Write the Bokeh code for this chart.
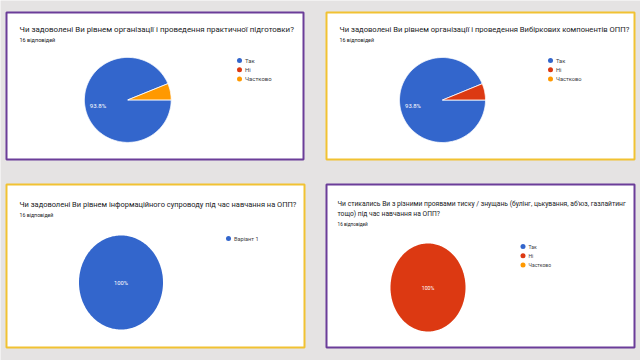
import numpy as np
from bokeh.plotting import figure
from bokeh.models import Range1d
from bokeh.core.properties import value
from bokeh.embed import file_html
from bokeh.resources import INLINE

# ---------------- data ----------------
titles_1 = ["Чи задоволені Ви рівнем організації і проведення практичної підготовки?"]
titles_2 = ["Чи задоволені Ви рівнем організації і проведення Вибіркових компонентів ОПП?"]
titles_3 = ["Чи задоволені Ви рівнем інформаційного супроводу під час навчання на ОПП?"]
titles_4 = ["Чи стикались Ви з різними проявами тиску / знущань (булінг, цькування, аб'юз, газлайтинг",
            "тощо) під час навчання на ОПП?"]
responses_label = "16 відповідей"

options_1 = ["Так", "Ні", "Частково"]
counts_1 = [15, 0, 1]
options_2 = ["Так", "Ні", "Частково"]
counts_2 = [15, 1, 0]
options_3 = ["Варіант 1"]
counts_3 = [16]
options_4 = ["Так", "Ні", "Частково"]
counts_4 = [0, 16, 0]

colors = ["#3366cc", "#dc3912", "#ff9900"]

# ---------------- layout (reference pixel space) ----------------
panels = [
    dict(box=(6, 12, 303, 159), border="#6b3d99", titles=titles_1, opts=options_1, counts=counts_1,
         tx=19, ty=29, pie=(127.3, 99.4, 43.4, 42.5), leg=(239, 60), sc=0.99),
    dict(box=(326, 12, 634, 159), border="#f1c232", titles=titles_2, opts=options_2, counts=counts_2,
         tx=339, ty=29, pie=(442, 99.5, 43, 42.5), leg=(550, 60), sc=0.955),
    dict(box=(6, 184, 304, 347), border="#f1c232", titles=titles_3, opts=options_3, counts=counts_3,
         tx=19, ty=204, pie=(120.5, 282, 42, 47), leg=(228, 238), sc=0.935),
    dict(box=(326, 184, 634, 347), border="#6b3d99", titles=titles_4, opts=options_4, counts=counts_4,
         tx=337, ty=203, pie=(427.5, 287, 37.5, 44), leg=(522.5, 246), sc=0.84),
]

p = figure(width=640, height=360, output_backend="svg", toolbar_location=None,
           x_range=Range1d(0, 640), y_range=Range1d(360, 0),
           x_axis_location=None, y_axis_location=None, min_border=0)
p.grid.visible = False
p.outline_line_color = None
p.background_fill_color = "#e5e3e3"
p.border_fill_color = "#e5e3e3"

FONT = value("Roboto")

for pn in panels:
    sc = pn["sc"]
    x0, y0, x1, y1 = pn["box"]
    p.quad(left=[x0], right=[x1], top=[y0], bottom=[y1], fill_color="white",
           line_color=pn["border"], line_width=2)

    # titles
    ty = pn["ty"]
    for i, t in enumerate(pn["titles"]):
        p.text(x=[pn["tx"]], y=[ty + i * 10.3], text=[t], text_font=FONT,
               text_font_size=f"{8.0 * sc:.2f}px",
               text_color="#202124", text_align="left", text_baseline="middle")
    sub_y = ty + (len(pn["titles"]) - 1) * 10.3 + 10.5
    p.text(x=[pn["tx"]], y=[sub_y], text=[responses_label], text_font=FONT,
           text_font_size=f"{5.6 * sc:.2f}px",
           text_color="#202124", text_align="left", text_baseline="middle")

    # pie (starts at 3 o'clock, runs clockwise on screen)
    cx, cy, rx, ry = pn["pie"]
    counts = np.array(pn["counts"], dtype=float)
    total = counts.sum()
    fr = counts / total
    start = 0.0
    nonzero = int((counts > 0).sum())
    for k, f in enumerate(fr):
        if f <= 0:
            continue
        end = start + f * 2 * np.pi
        th = np.linspace(start, end, max(8, int(240 * f)))
        if f >= 0.999:
            xs = list(cx + rx * np.cos(th))
            ys = list(cy + ry * np.sin(th))
        else:
            xs = [cx] + list(cx + rx * np.cos(th)) + [cx]
            ys = [cy] + list(cy + ry * np.sin(th)) + [cy]
        p.patch(xs, ys, fill_color=colors[k],
                line_color="white" if nonzero > 1 else None, line_width=0.8)
        if f >= 0.3:
            if f >= 0.999:
                lx, ly = cx, cy
                lab = "100%"
            else:
                mid = (start + end) / 2
                lx = cx + 0.7 * rx * np.cos(mid)
                ly = cy + 0.7 * ry * np.sin(mid)
                lab = f"{f * 100:.1f}%"
            p.text(x=[lx], y=[ly], text=[lab], text_font=FONT, text_font_size=f"{6.2 * sc:.2f}px",
                   text_color="white", text_align="center", text_baseline="middle")
        start = end

    # legend
    lx0, ly0 = pn["leg"]
    for k, o in enumerate(pn["opts"]):
        yy = ly0 + k * 9.2
        p.scatter(x=[lx0], y=[yy], size=5, marker="circle", fill_color=colors[k], line_color=None)
        p.text(x=[lx0 + 5.5], y=[yy], text=[o], text_font=FONT, text_font_size=f"{6.0 * sc:.2f}px",
               text_color="#3c4043", text_align="left", text_baseline="middle")

open("out.html", "w").write(file_html(p, INLINE))
